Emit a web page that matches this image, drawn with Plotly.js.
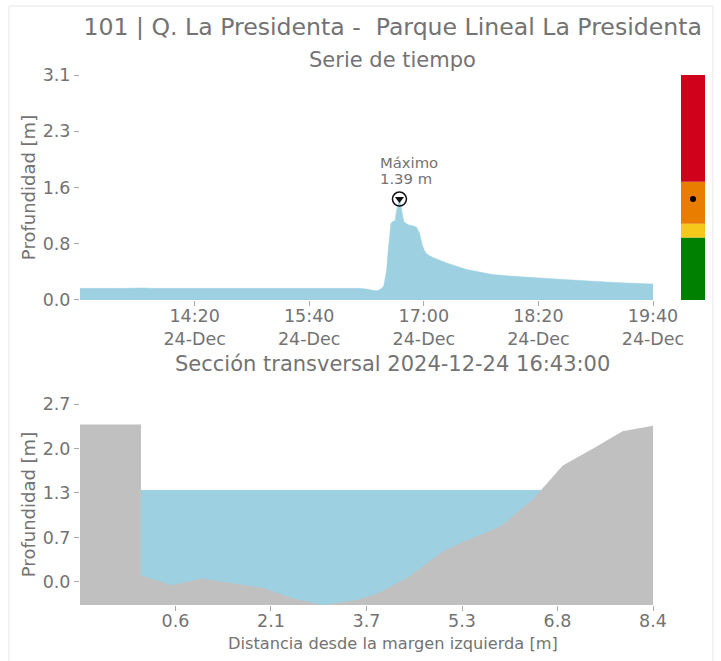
<!DOCTYPE html>
<html>
<head>
<meta charset="utf-8">
<script src="https://cdn.plot.ly/plotly-3.0.1.min.js"></script>
<style>
html,body{margin:0;padding:0;background:#fff;}
#chart{width:721px;height:661px;}
</style>
</head>
<body>
<div id="chart"></div>
<script>
// ---- Time series (depth, m) ----
const times = [
 '2024-12-24 13:00','2024-12-24 13:05','2024-12-24 13:10','2024-12-24 13:15','2024-12-24 13:20','2024-12-24 13:25',
 '2024-12-24 13:30','2024-12-24 13:35','2024-12-24 13:40','2024-12-24 13:45','2024-12-24 13:50','2024-12-24 13:55',
 '2024-12-24 14:00','2024-12-24 14:05','2024-12-24 14:10','2024-12-24 14:15','2024-12-24 14:20','2024-12-24 14:25',
 '2024-12-24 14:30','2024-12-24 14:35','2024-12-24 14:40','2024-12-24 14:45','2024-12-24 14:50','2024-12-24 14:55',
 '2024-12-24 15:00','2024-12-24 15:05','2024-12-24 15:10','2024-12-24 15:15','2024-12-24 15:20','2024-12-24 15:25',
 '2024-12-24 15:30','2024-12-24 15:35','2024-12-24 15:40','2024-12-24 15:45','2024-12-24 15:50','2024-12-24 15:55',
 '2024-12-24 16:00','2024-12-24 16:05','2024-12-24 16:10','2024-12-24 16:15','2024-12-24 16:20','2024-12-24 16:25',
 '2024-12-24 16:28','2024-12-24 16:30','2024-12-24 16:32','2024-12-24 16:34','2024-12-24 16:35','2024-12-24 16:36',
 '2024-12-24 16:37','2024-12-24 16:38','2024-12-24 16:39','2024-12-24 16:40','2024-12-24 16:41','2024-12-24 16:42',
 '2024-12-24 16:43','2024-12-24 16:44','2024-12-24 16:45','2024-12-24 16:46','2024-12-24 16:48','2024-12-24 16:50',
 '2024-12-24 16:53','2024-12-24 16:55','2024-12-24 16:57','2024-12-24 16:59','2024-12-24 17:01','2024-12-24 17:03',
 '2024-12-24 17:06','2024-12-24 17:09','2024-12-24 17:12','2024-12-24 17:16','2024-12-24 17:20','2024-12-24 17:25',
 '2024-12-24 17:30','2024-12-24 17:39','2024-12-24 17:48','2024-12-24 18:00','2024-12-24 18:12','2024-12-24 18:24',
 '2024-12-24 18:35','2024-12-24 18:46','2024-12-24 18:58','2024-12-24 19:10','2024-12-24 19:21','2024-12-24 19:30',
 '2024-12-24 19:40'
];
const depth = [
 0.160,0.165,0.160,0.160,0.165,0.160,
 0.160,0.165,0.160,0.165,0.160,0.160,
 0.165,0.160,0.160,0.165,0.160,0.160,
 0.165,0.160,0.160,0.165,0.160,0.165,
 0.160,0.165,0.170,0.165,0.165,0.170,
 0.165,0.170,0.170,0.165,0.170,0.165,
 0.165,0.165,0.160,0.160,0.150,0.130,
 0.130,0.150,0.190,0.400,0.650,0.900,
 1.050,1.080,1.080,1.100,1.240,1.300,
 1.390,1.300,1.200,1.080,1.050,1.030,
 1.020,1.000,0.920,0.750,0.660,0.620,
 0.590,0.570,0.540,0.510,0.480,0.450,
 0.420,0.390,0.350,0.330,0.310,0.300,
 0.285,0.270,0.255,0.245,0.235,0.225,
 0.220
];
const maxTime = '2024-12-24 16:43';
const maxDepth = 1.39;

const tsTickVals = ['2024-12-24 14:20','2024-12-24 15:40','2024-12-24 17:00','2024-12-24 18:20','2024-12-24 19:40'];
const tsTickText = ['14:20<br>24-Dec','15:40<br>24-Dec','17:00<br>24-Dec','18:20<br>24-Dec','19:40<br>24-Dec'];
const tsYTickVals = [0, 0.775, 1.55, 2.325, 3.1];
const tsYTickText = ['0.0','0.8','1.6','2.3','3.1'];

// ---- Alert levels (m) ----
const levelBounds = [0, 0.86, 1.05, 1.63, 3.1];
const levelColors = ['#008000', '#f7c81c', '#e87d00', '#d0011b'];

// ---- Cross section ----
const secX = [-1.0, 0.0, 0.0, 0.5, 1.0, 1.5, 2.0, 2.5, 3.0, 3.55, 3.9, 4.4, 4.95, 5.3, 5.9, 6.42, 6.92, 7.44, 7.9, 8.4];
const secY = [2.38, 2.38, 0.10, -0.05, 0.05, -0.02, -0.09, -0.25, -0.35, -0.27, -0.17, 0.08, 0.46, 0.61, 0.84, 1.24, 1.76, 2.03, 2.28, 2.36];
const secBottom = -0.35;
const waterLevel = 1.39;
const waterLeft = 0.0;
const waterRight = 6.57;
const secXTickVals = [0.567, 2.133, 3.7, 5.267, 6.833, 8.4];
const secXTickText = ['0.6','2.1','3.7','5.3','6.8','8.4'];
const secYTickVals = [0, 0.6725, 1.345, 2.0175, 2.69];
const secYTickText = ['0.0','0.7','1.3','2.0','2.7'];

const FONT = 'DejaVu Sans, sans-serif';
const TXT = '#737373';
const TICKC = '#aaaaaa';
const BLUE = '#9dd1e1';
const GREY = '#c0c0c0';

const traces = [];
traces.push({
  x: times, y: depth, type: 'scatter', mode: 'lines',
  fill: 'tozeroy', fillcolor: BLUE, line: {color: BLUE, width: 0.5},
  xaxis: 'x', yaxis: 'y', hoverinfo: 'skip'
});
traces.push({
  x: [maxTime], y: [maxDepth], type: 'scatter', mode: 'markers',
  marker: {symbol: 'circle-open', size: 14, color: '#111', line: {width: 1.5, color: '#111'}},
  xaxis: 'x', yaxis: 'y'
});
traces.push({
  x: [maxTime], y: [maxDepth], type: 'scatter', mode: 'markers',
  marker: {symbol: 'triangle-down', size: 8, color: '#111'},
  xaxis: 'x', yaxis: 'y'
});
// level bar
for (let i = 0; i < levelColors.length; i++) {
  traces.push({
    x: [0], y: [levelBounds[i+1] - levelBounds[i]], base: [levelBounds[i]],
    type: 'bar', width: 1, marker: {color: levelColors[i], line: {width: 0}},
    xaxis: 'x2', yaxis: 'y2', hoverinfo: 'skip'
  });
}
traces.push({
  x: [0], y: [maxDepth], type: 'scatter', mode: 'markers',
  marker: {size: 6, color: '#000'}, xaxis: 'x2', yaxis: 'y2'
});
// water
traces.push({
  x: [waterLeft, waterLeft, waterRight, waterRight, waterLeft],
  y: [secBottom, waterLevel, waterLevel, secBottom, secBottom],
  type: 'scatter', mode: 'lines', fill: 'toself', fillcolor: BLUE,
  line: {width: 0, color: BLUE}, xaxis: 'x3', yaxis: 'y3', hoverinfo: 'skip'
});
// ground
traces.push({
  x: [secX[0]].concat(secX, [secX[secX.length-1], secX[0]]),
  y: [secBottom].concat(secY, [secBottom, secBottom]),
  type: 'scatter', mode: 'lines', fill: 'toself', fillcolor: GREY,
  line: {width: 0, color: GREY}, xaxis: 'x3', yaxis: 'y3', hoverinfo: 'skip'
});

const axBase = {
  showgrid: false, zeroline: false, showline: false,
  ticks: 'outside', ticklen: 5, tickwidth: 1, tickcolor: TICKC,
  tickfont: {family: FONT, size: 17.5, color: TXT}
};

const layout = {
  width: 721, height: 661,
  margin: {l: 80, r: 16, t: 75, b: 56},
  paper_bgcolor: '#fff', plot_bgcolor: '#fff',
  showlegend: false, barmode: 'overlay',
  font: {family: FONT, color: TXT},
  title: {text: '101 | Q. La Presidenta -  Parque Lineal La Presidenta',
          font: {family: FONT, size: 23.6, color: TXT},
          x: 0.5447, xanchor: 'center', y: 0.959, yanchor: 'middle', yref: 'container', xref: 'container'},
  xaxis: Object.assign({}, axBase, {
    domain: [0, 0.9168], type: 'date',
    range: ['2024-12-24 13:00', '2024-12-24 19:40'],
    tickmode: 'array', tickvals: tsTickVals, ticktext: tsTickText, anchor: 'y',
    ticklabelstandoff: -5
  }),
  yaxis: Object.assign({}, axBase, {
    domain: [0.5755, 1], range: [0, 3.1],
    tickmode: 'array', tickvals: tsYTickVals, ticktext: tsYTickText, anchor: 'x',
    title: {text: 'Profundidad [m]', font: {family: FONT, size: 18, color: TXT}, standoff: 2}
  }),
  xaxis2: {domain: [0.9616, 1], range: [-0.5, 0.5], visible: false, anchor: 'y2', fixedrange: true},
  yaxis2: {domain: [0.5755, 1], range: [0, 3.1], visible: false, anchor: 'x2'},
  xaxis3: Object.assign({}, axBase, {
    domain: [0, 0.9168], range: [-1.0, 8.4], anchor: 'y3',
    tickmode: 'array', tickvals: secXTickVals, ticktext: secXTickText,
    ticklabelstandoff: -5
  }),
  yaxis3: Object.assign({}, axBase, {
    domain: [0, 0.3792], range: [secBottom, 2.69], anchor: 'x3',
    tickmode: 'array', tickvals: secYTickVals, ticktext: secYTickText,
    title: {text: 'Profundidad [m]', font: {family: FONT, size: 18, color: TXT}, standoff: 2}
  }),
  annotations: [
    {text: 'Serie de tiempo', xref: 'paper', yref: 'paper', x: 0.5, y: 1.028,
     xanchor: 'center', yanchor: 'middle', showarrow: false, font: {family: FONT, size: 21, color: TXT}},
    {text: 'Sección transversal 2024-12-24 16:43:00', xref: 'paper', yref: 'paper', x: 0.5, y: 0.4547,
     xanchor: 'center', yanchor: 'middle', showarrow: false, font: {family: FONT, size: 21, color: TXT}},
    {text: 'Distancia desde la margen izquierda [m]', xref: 'paper', yref: 'paper', x: 0.5, y: -0.0717,
     xanchor: 'center', yanchor: 'middle', showarrow: false, font: {family: FONT, size: 16.2, color: TXT}},
    {text: 'Máximo', xref: 'x', yref: 'y', x: maxTime, y: maxDepth,
     xanchor: 'left', yanchor: 'middle', align: 'left', xshift: -21, yshift: 37, showarrow: false,
     font: {family: FONT, size: 14.8, color: TXT}},
    {text: '1.39 m', xref: 'x', yref: 'y', x: maxTime, y: maxDepth,
     xanchor: 'left', yanchor: 'middle', align: 'left', xshift: -21, yshift: 21, showarrow: false,
     font: {family: FONT, size: 14.8, color: TXT}}
  ],
  shapes: [
    {type: 'rect', xref: 'paper', yref: 'paper', x0: -0.1136, x1: 1.0128, y0: -0.2, y1: 1.130,
     line: {color: '#e6e6e6', width: 1}, fillcolor: 'rgba(0,0,0,0)', layer: 'below'}
  ]
};

Plotly.newPlot('chart', traces, layout, {displayModeBar: false, staticPlot: true});
</script>
</body>
</html>
